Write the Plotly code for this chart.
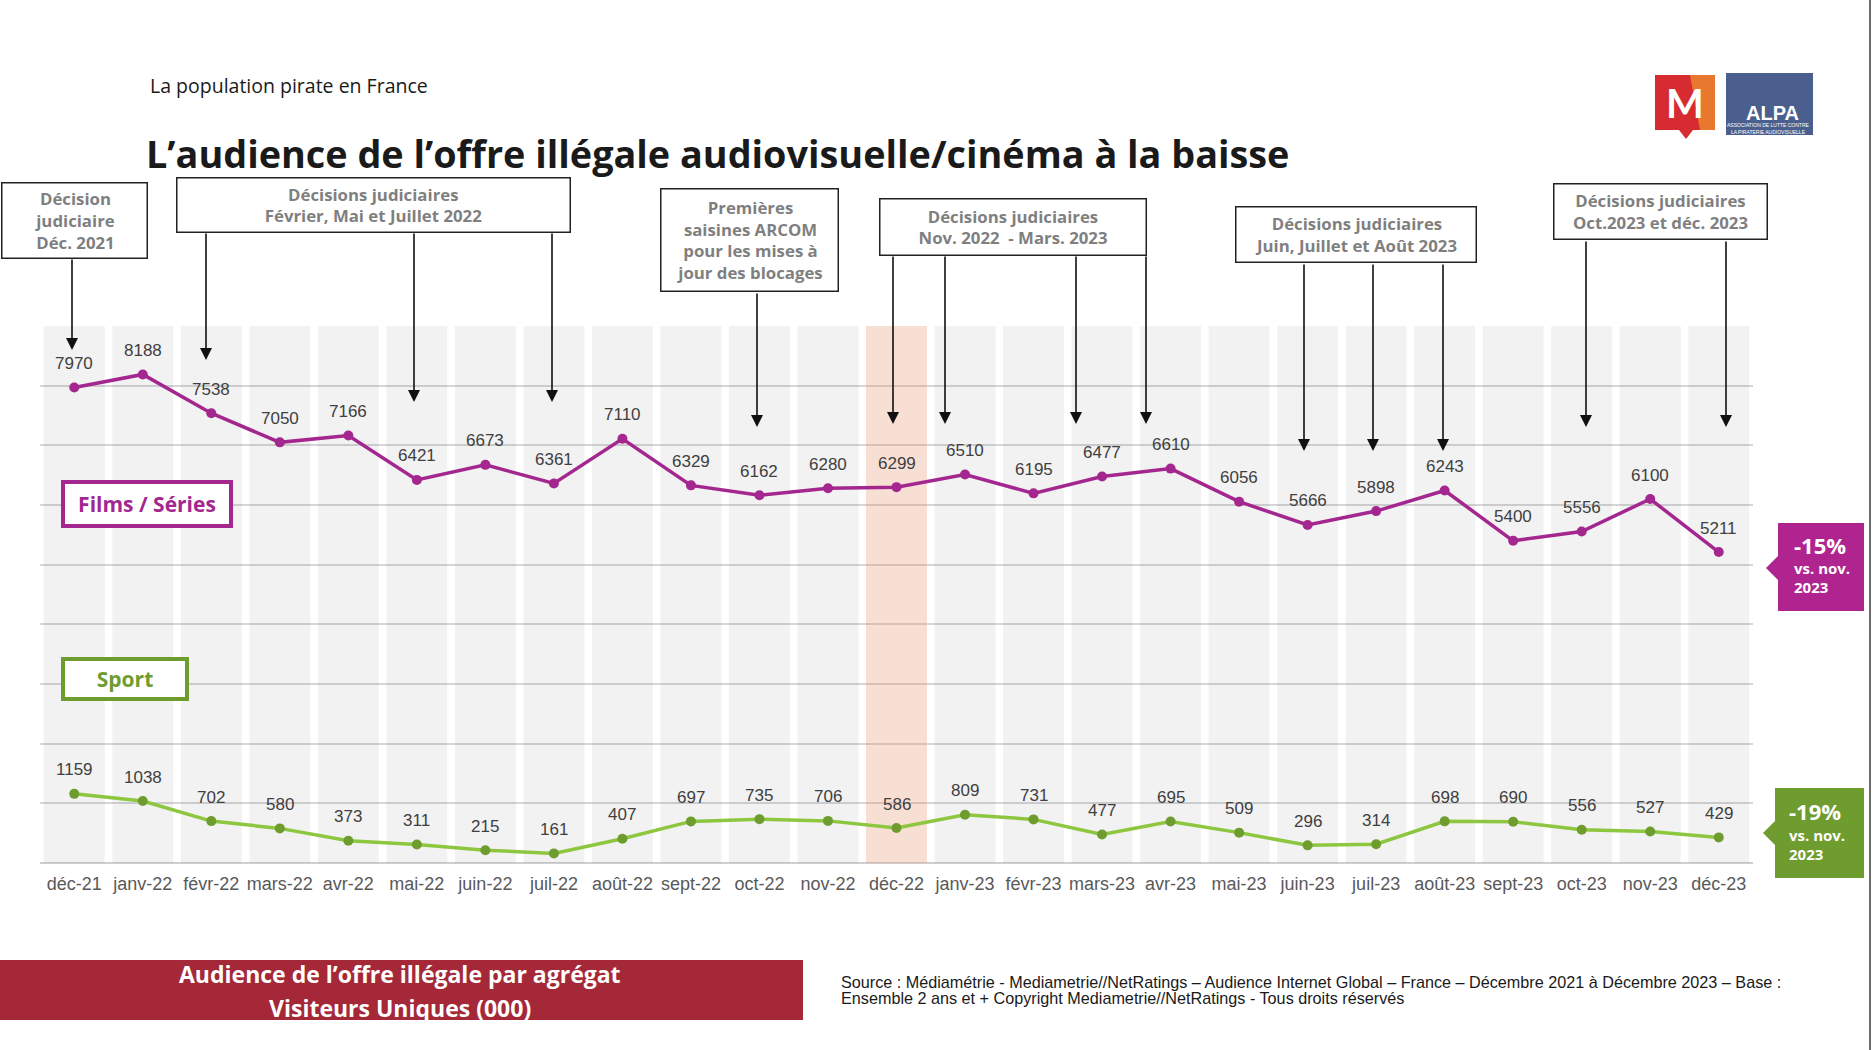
import plotly.graph_objects as go

# ---------------- data ----------------
months = ["déc-21", "janv-22", "févr-22", "mars-22", "avr-22", "mai-22", "juin-22", "juil-22",
          "août-22", "sept-22", "oct-22", "nov-22", "déc-22", "janv-23", "févr-23", "mars-23",
          "avr-23", "mai-23", "juin-23", "juil-23", "août-23", "sept-23", "oct-23", "nov-23", "déc-23"]
films = [7970, 8188, 7538, 7050, 7166, 6421, 6673, 6361, 7110, 6329, 6162, 6280, 6299,
         6510, 6195, 6477, 6610, 6056, 5666, 5898, 6243, 5400, 5556, 6100, 5211]
sport = [1159, 1038, 702, 580, 373, 311, 215, 161, 407, 697, 735, 706, 586,
         809, 731, 477, 695, 509, 296, 314, 698, 690, 556, 527, 429]
band_height = [9000] * len(months)
highlight_month = "déc-22"

FILMS_C = "#a3278f"
SPORT_C = "#8dc63f"
SPORT_DARK = "#6f9c2e"
GRAY_TXT = "#7f7f7f"
BOLD_FONT = "Open Sans, Noto Sans, sans-serif"

# page geometry (body margin removed by post_script)
W, H = 1874, 1050
PL, PR, PT, PB = 40, 1753, 326, 863   # plot area in page pixels


def fx(x):
    return (x - PL) / (PR - PL)


def fy(y):
    return (PB - y) / (PB - PT)


fig = go.Figure()

band_colors = ["rgba(230,140,100,0.28)" if m == highlight_month else "rgba(0,0,0,0.05)" for m in months]
fig.add_trace(go.Bar(x=months, y=band_height, marker=dict(color=band_colors, line=dict(width=0)),
                     hoverinfo="skip", showlegend=False))

fig.add_trace(go.Scatter(x=months, y=films, mode="lines+markers",
                         line=dict(color=FILMS_C, width=3.5),
                         marker=dict(color=FILMS_C, size=10), showlegend=False))
fig.add_trace(go.Scatter(x=months, y=sport, mode="lines+markers",
                         line=dict(color=SPORT_C, width=3.5),
                         marker=dict(color=SPORT_DARK, size=10), showlegend=False))

annotations = []
label_font = dict(family="Liberation Sans, Arial, sans-serif", size=17, color="#404040")
for series in (films, sport):
    for m, v in zip(months, series):
        annotations.append(dict(x=m, y=v, xref="x", yref="y", text=str(v), showarrow=False,
                                yshift=24, font=label_font, xanchor="center", yanchor="middle"))

# ---------------- callout boxes ----------------
boxes = [
    ("<b>Décision<br>judiciaire<br>Déc. 2021</b>", 1, 147, 182, 258),
    ("<b>Décisions judiciaires<br>Février, Mai et Juillet 2022</b>", 176, 570, 177, 232),
    ("<b>Premières<br>saisines ARCOM<br>pour les mises à<br>jour des blocages</b>", 660, 838, 189, 292),
    ("<b>Décisions judiciaires<br>Nov. 2022  - Mars. 2023</b>", 880, 1147, 198, 255),
    ("<b>Décisions judiciaires<br>Juin, Juillet et Août 2023</b>", 1235, 1476, 207, 263),
    ("<b>Décisions judiciaires<br>Oct.2023 et déc. 2023</b>", 1553, 1767, 184, 240),
]
for txt, x0, x1, y0, y1 in boxes:
    annotations.append(dict(xref="paper", yref="paper", x=fx((x0 + x1) / 2), y=fy((y0 + y1) / 2),
                            xanchor="center", yanchor="middle", text=txt, showarrow=False,
                            width=x1 - x0 - 2, height=y1 - y0 - 2, bgcolor="white",
                            bordercolor="#222222", borderwidth=1.5, borderpad=0,
                            font=dict(family=BOLD_FONT, size=16.8, color=GRAY_TXT)))

# arrows: (x, start_y, tip_y)
arrows = [
    (72, 258, 350),
    (206, 232, 360), (414, 232, 402), (552, 232, 402),
    (757, 292, 427),
    (893, 255, 424), (945, 255, 424), (1076, 255, 424), (1146, 255, 424),
    (1304, 263, 451), (1373, 263, 451), (1443, 263, 451),
    (1586, 240, 427), (1726, 240, 427),
]
for x, ys, yt in arrows:
    annotations.append(dict(xref="paper", yref="paper", x=fx(x), y=fy(yt), text="",
                            showarrow=True, ax=0, ay=-(yt - ys), axref="pixel", ayref="pixel",
                            arrowhead=2, arrowsize=1.5, arrowwidth=1.6, arrowcolor="#111111",
                            standoff=0, startstandoff=0))

# series name boxes
annotations.append(dict(xref="paper", yref="paper", x=fx(146.5), y=fy(503.5), text="<b>Films / Séries</b>",
                        showarrow=False, width=164, height=40, bgcolor="white", bordercolor=FILMS_C,
                        borderwidth=4, borderpad=0, xanchor="center", yanchor="middle",
                        font=dict(family=BOLD_FONT, size=21, color=FILMS_C)))
annotations.append(dict(xref="paper", yref="paper", x=fx(124.5), y=fy(678.5), text="<b>Sport</b>",
                        showarrow=False, width=120, height=36, bgcolor="white", bordercolor=SPORT_DARK,
                        borderwidth=4, borderpad=0, xanchor="center", yanchor="middle",
                        font=dict(family=BOLD_FONT, size=21, color=SPORT_DARK)))

shapes = []
# badges
badges = [
    (1778, 1864, 523, 611, 1766, 568, "#b0248f", "-15%", 1792, [545, 568, 587]),
    (1775, 1864, 788, 878, 1763, 833, "#6f9c2f", "-19%", 1787, [811, 835, 854]),
]
for x0, x1, y0, y1, tipx, tipy, col, big, tx, tys in badges:
    shapes.append(dict(type="rect", xref="paper", yref="paper", x0=fx(x0), x1=fx(x1), y0=fy(y1), y1=fy(y0),
                       fillcolor=col, line=dict(width=0), layer="above"))
    shapes.append(dict(type="path", xref="paper", yref="paper",
                       path=f"M {fx(x0 + 1)} {fy(tipy - 13)} L {fx(tipx)} {fy(tipy)} L {fx(x0 + 1)} {fy(tipy + 13)} Z",
                       fillcolor=col, line=dict(width=0), layer="above"))
    annotations.append(dict(xref="paper", yref="paper", x=fx(tx), y=fy(tys[0]), text=f"<b>{big}</b>",
                            showarrow=False, xanchor="left", yanchor="middle", height=22,
                            font=dict(family=BOLD_FONT, size=22, color="white")))
    annotations.append(dict(xref="paper", yref="paper", x=fx(tx), y=fy(tys[1]), text="<b>vs. nov.</b>",
                            showarrow=False, xanchor="left", yanchor="middle", height=16,
                            font=dict(family=BOLD_FONT, size=15, color="white")))
    annotations.append(dict(xref="paper", yref="paper", x=fx(tx), y=fy(tys[2]), text="<b>2023</b>",
                            showarrow=False, xanchor="left", yanchor="middle", height=16,
                            font=dict(family=BOLD_FONT, size=15, color="white")))

# bottom red banner
shapes.append(dict(type="rect", xref="paper", yref="paper", x0=fx(0), x1=fx(803), y0=fy(1020), y1=fy(960),
                   fillcolor="#a52838", line=dict(width=0)))
annotations.append(dict(xref="paper", yref="paper", x=fx(400), y=fy(974), text="<b>Audience de l’offre illégale par agrégat</b>",
                        showarrow=False, xanchor="center", yanchor="middle",
                        font=dict(family=BOLD_FONT, size=23, color="white")))
annotations.append(dict(xref="paper", yref="paper", x=fx(400), y=fy(1008), text="<b>Visiteurs Uniques (000)</b>",
                        showarrow=False, xanchor="center", yanchor="middle",
                        font=dict(family=BOLD_FONT, size=23, color="white")))

# source (two lines)
src_font = dict(family="Liberation Sans Narrow, Arial Narrow, sans-serif", size=16.2, color="#1a1a1a")
annotations.append(dict(xref="paper", yref="paper", x=fx(839), y=fy(982),
                        text="Source : Médiamétrie - Mediametrie//NetRatings – Audience Internet Global – France – Décembre 2021 à Décembre 2023 – Base :",
                        showarrow=False, xanchor="left", yanchor="middle", font=src_font))
annotations.append(dict(xref="paper", yref="paper", x=fx(839), y=fy(998),
                        text="Ensemble 2 ans et + Copyright Mediametrie//NetRatings - Tous droits réservés",
                        showarrow=False, xanchor="left", yanchor="middle", font=src_font))

# titles
annotations.append(dict(xref="paper", yref="paper", x=fx(148), y=fy(85), text="La population pirate en France",
                        showarrow=False, xanchor="left", yanchor="middle",
                        font=dict(family="Open Sans, sans-serif", size=19.5, color="#1a1a1a")))
annotations.append(dict(xref="paper", yref="paper", x=fx(144), y=fy(154),
                        text="<b>L’audience de l’offre illégale audiovisuelle/cinéma à la baisse</b>",
                        showarrow=False, xanchor="left", yanchor="middle",
                        font=dict(family=BOLD_FONT, size=37.8, color="#1a1a1a")))

# logos
shapes.append(dict(type="path", xref="paper", yref="paper",
                   path=f"M {fx(1655)} {fy(75)} L {fx(1715)} {fy(75)} L {fx(1715)} {fy(130)} L {fx(1693)} {fy(130)} L {fx(1686)} {fy(139)} L {fx(1679)} {fy(130)} L {fx(1655)} {fy(130)} Z",
                   fillcolor="#d62b30", line=dict(width=0)))
shapes.append(dict(type="path", xref="paper", yref="paper",
                   path=f"M {fx(1690)} {fy(75)} L {fx(1715)} {fy(75)} L {fx(1715)} {fy(130)} L {fx(1700)} {fy(130)} Z",
                   fillcolor="#e8782e", line=dict(width=0)))
annotations.append(dict(xref="paper", yref="paper", x=fx(1685), y=fy(103), text="<b>M</b>", showarrow=False,
                        xanchor="center", yanchor="middle",
                        font=dict(family="Lato, Open Sans, sans-serif", size=40, color="white")))
shapes.append(dict(type="rect", xref="paper", yref="paper", x0=fx(1726), x1=fx(1813), y0=fy(135), y1=fy(73),
                   fillcolor="#4b5f8e", line=dict(width=0)))
annotations.append(dict(xref="paper", yref="paper", x=fx(1772), y=fy(113), text="<b>ALPA</b>", showarrow=False,
                        xanchor="center", yanchor="middle",
                        font=dict(family="Liberation Sans Narrow, Arial Narrow, sans-serif", size=20, color="white")))
annotations.append(dict(xref="paper", yref="paper", x=fx(1769), y=fy(128),
                        text="ASSOCIATION DE LUTTE CONTRE<br>LA PIRATERIE AUDIOVISUELLE", showarrow=False,
                        xanchor="center", yanchor="middle",
                        font=dict(family="Liberation Sans Narrow, Arial Narrow, sans-serif", size=5, color="white")))

# right edge line
shapes.append(dict(type="line", xref="paper", yref="paper", x0=fx(1870), x1=fx(1870), y0=fy(0), y1=fy(1050),
                   line=dict(color="#6b6b6b", width=2)))

fig.update_layout(
    width=W, height=H,
    margin=dict(l=PL, r=W - PR, t=PT, b=H - PB, pad=0),
    paper_bgcolor="white", plot_bgcolor="white",
    bargap=0.11,
    showlegend=False,
    annotations=annotations,
    shapes=shapes,
    xaxis=dict(type="category", range=[-0.5, len(months) - 0.5], showgrid=False, zeroline=False,
               showline=False, ticks="", fixedrange=True, ticklabelstandoff=8,
               tickfont=dict(family="Liberation Sans Narrow, Arial Narrow, sans-serif", size=18, color="#595959")),
    yaxis=dict(range=[0, 9000], dtick=1000, showgrid=True, gridcolor="#d6d6d6", gridwidth=1.5,
               zeroline=True, zerolinecolor="#cfcfcf", zerolinewidth=2, showticklabels=False,
               showline=False, ticks="", fixedrange=True),
)

fig.write_html("out.html", config={"displayModeBar": False},
               post_script="document.body.style.margin='0px'; document.body.style.overflow='hidden';")
